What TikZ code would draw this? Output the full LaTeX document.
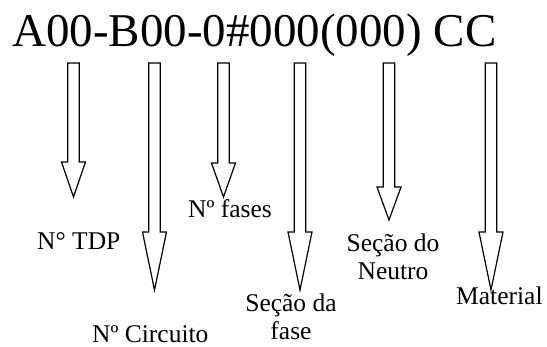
\documentclass[tikz,border=0pt]{standalone}
\usepackage{fontspec}
\setmainfont{Liberation Serif}
\tikzset{
  blockarrow/.style={draw=black, fill=white, line width=1.2pt, line join=miter},
  title/.style={inner sep=0pt, anchor=base west, font=\fontsize{47}{50}\selectfont},
  lbl/.style={inner sep=0pt, font=\fontsize{25.5}{28}\selectfont},
}
\newcommand{\blockarr}[4]{% cx, top, headstart, tip
  \draw[blockarrow] (#1-5.75,#2) -- (#1+5.75,#2) -- (#1+5.75,#3) -- (#1+12,#3)
    -- (#1,#4) -- (#1-12,#3) -- (#1-5.75,#3) -- cycle;}
\begin{document}
\begin{tikzpicture}[x=1pt,y=-1pt]
\useasboundingbox (0,0) rectangle (547,347);
\node[title] (code) at (12,47) {A00-B00-0\#000(000) CC};
\blockarr{73.5}{63}{162}{197}
\blockarr{154.5}{63}{232}{290}
\blockarr{223.5}{63}{163}{197}
\blockarr{300}{63}{232}{290}
\blockarr{389}{63}{187}{220}
\blockarr{491}{63}{232}{290}
\node[lbl, anchor=base west] (tdp) at (37,250) {N° TDP};
\node[lbl, anchor=base west] (circ) at (92,343) {Nº Circuito};
\node[lbl, anchor=base west] (fases) at (188,218) {Nº fases};
\node[lbl, anchor=base, align=center] (secfase) at (291,340) {Seção da\\fase};
\node[lbl, anchor=base, align=center] (secneu) at (393,280) {Seção do\\Neutro};
\node[lbl, anchor=base west] (mat) at (456,305) {Material};
\end{tikzpicture}
\end{document}
